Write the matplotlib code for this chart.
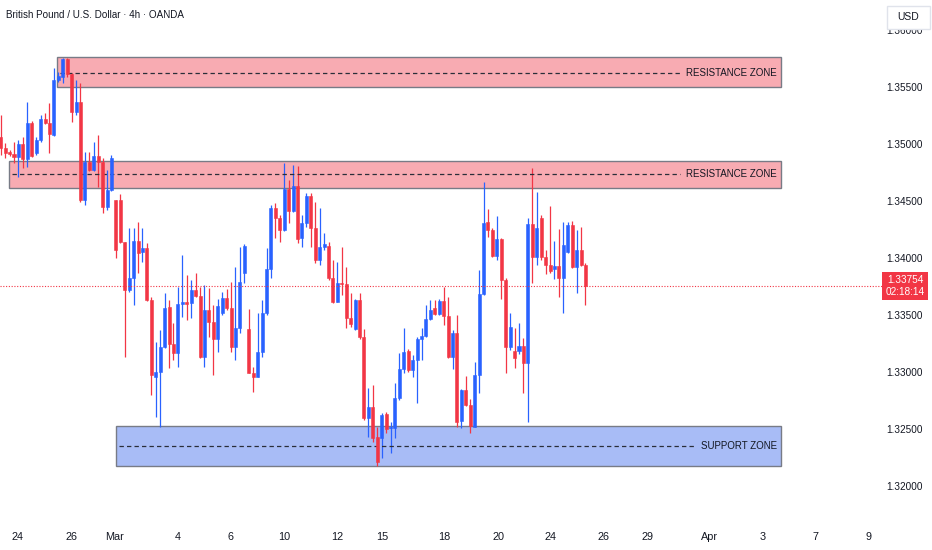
import numpy as np
import matplotlib
matplotlib.use("Agg")
import matplotlib.pyplot as plt
import matplotlib.transforms as mtransforms
from matplotlib.patches import Rectangle

plt.rcParams['font.family'] = ['Liberation Sans Narrow', 'DejaVu Sans Condensed', 'Liberation Sans', 'DejaVu Sans']
plt.rcParams['font.stretch'] = 'condensed'

#### GBPUSD 4h candles ####
opens = [1.35067, 1.34964, 1.34929, 1.34911, 1.34891, 1.35002, 1.34867, 1.35190, 1.34920, 1.35037,
         1.35222, 1.35184, 1.35081, 1.35565, 1.35594, 1.35746, 1.35614, 1.35286, 1.35374, 1.34510,
         1.34847, 1.34774, 1.34897, 1.34847, 1.34451, 1.34598, 1.34510, 1.34510, 1.34143, 1.33719,
         1.33822, 1.34152, 1.34050, 1.34085, 1.33631, 1.32957, 1.33001, 1.33221, 1.33567, 1.33244,
         1.33168, 1.33596, 1.33616, 1.33602, 1.33719, 1.33666, 1.33127, 1.33543, 1.33441, 1.33285,
         1.33514, 1.33646, 1.33558, 1.33221, 1.33382, 1.33865, 1.33373, 1.32993, 1.32957, 1.33177,
         1.33514, 1.33901, 1.34437, 1.34349, 1.34246, 1.34604, 1.34416, 1.34633, 1.34173, 1.34305,
         1.34545, 1.34261, 1.33983, 1.34094, 1.34106, 1.33821, 1.33616, 1.33778, 1.33772, 1.33470,
         1.33373, 1.33631, 1.33303, 1.32591, 1.32694, 1.32430, 1.32416, 1.32629, 1.32503, 1.32503,
         1.32767, 1.33022, 1.33186, 1.33016, 1.33104, 1.33285, 1.33315, 1.33461, 1.33558, 1.33508,
         1.33625, 1.33490, 1.33133, 1.33344, 1.32571, 1.32840, 1.32708, 1.32518, 1.32972, 1.33684,
         1.34319, 1.34246, 1.34018, 1.34164, 1.33807, 1.33215, 1.33186, 1.33186, 1.33227, 1.33074,
         1.34299, 1.34006, 1.34349, 1.34006, 1.33939, 1.33900, 1.33930, 1.33821, 1.34056, 1.34290,
         1.33918, 1.34070, 1.33939]
highs = [1.35257, 1.35008, 1.34949, 1.35023, 1.35037, 1.35067, 1.35374, 1.35204, 1.35067, 1.35257,
         1.35272, 1.35359, 1.35667, 1.35638, 1.35755, 1.35755, 1.35623, 1.35565, 1.35535, 1.34935,
         1.34935, 1.35023, 1.35081, 1.34876, 1.34774, 1.34906, 1.34510, 1.34562, 1.34143, 1.34264,
         1.34264, 1.34319, 1.34264, 1.34132, 1.33660, 1.33265, 1.33367, 1.33690, 1.33631, 1.33426,
         1.33748, 1.34027, 1.33851, 1.33807, 1.33871, 1.33748, 1.33763, 1.33734, 1.33587, 1.33637,
         1.33704, 1.33725, 1.33792, 1.33924, 1.34100, 1.34123, 1.33549, 1.33045, 1.33514, 1.33631,
         1.34085, 1.34466, 1.34486, 1.34378, 1.34838, 1.34686, 1.34817, 1.34808, 1.34378, 1.34574,
         1.34574, 1.34495, 1.34437, 1.34217, 1.34144, 1.33983, 1.33968, 1.34094, 1.33918, 1.33690,
         1.33637, 1.33690, 1.33373, 1.32855, 1.32884, 1.32518, 1.32635, 1.32650, 1.32562, 1.32899,
         1.33162, 1.33382, 1.33198, 1.33148, 1.33309, 1.33382, 1.33587, 1.33631, 1.33631, 1.33637,
         1.33748, 1.33660, 1.33367, 1.33499, 1.32846, 1.32963, 1.32758, 1.33089, 1.33895, 1.34671,
         1.34428, 1.34261, 1.34369, 1.34173, 1.33821, 1.33520, 1.33382, 1.33426, 1.33294, 1.34349,
         1.34788, 1.34583, 1.34378, 1.34070, 1.34457, 1.34152, 1.34252, 1.34319, 1.34319, 1.34328,
         1.34246, 1.34269, 1.33953]
lows = [1.34906, 1.34876, 1.34897, 1.34832, 1.34715, 1.34788, 1.34803, 1.34891, 1.34906, 1.35023,
        1.35178, 1.34920, 1.35072, 1.35550, 1.35535, 1.35594, 1.35198, 1.35257, 1.34495, 1.34466,
        1.34765, 1.34768, 1.34627, 1.34399, 1.34422, 1.34592, 1.34000, 1.34130, 1.33133, 1.33700,
        1.33587, 1.33868, 1.33967, 1.33620, 1.32796, 1.32606, 1.32518, 1.33206, 1.33031, 1.33104,
        1.33045, 1.33485, 1.33455, 1.33470, 1.33655, 1.33119, 1.33045, 1.33309, 1.32972, 1.33177,
        1.33499, 1.33543, 1.33177, 1.33104, 1.33338, 1.33778, 1.32987, 1.32826, 1.32952, 1.33133,
        1.33499, 1.33821, 1.34173, 1.34144, 1.34240, 1.34305, 1.34407, 1.34129, 1.34100, 1.34270,
        1.34100, 1.33953, 1.33939, 1.34070, 1.33807, 1.33608, 1.33611, 1.33675, 1.33382, 1.33397,
        1.33367, 1.33285, 1.32577, 1.32430, 1.32386, 1.32172, 1.32240, 1.32459, 1.32284, 1.32416,
        1.32752, 1.32987, 1.33001, 1.32952, 1.32723, 1.33104, 1.33309, 1.33455, 1.33499, 1.33499,
        1.33411, 1.33119, 1.33022, 1.32518, 1.32503, 1.32699, 1.32459, 1.32512, 1.32811, 1.33675,
        1.34182, 1.34012, 1.33982, 1.33637, 1.32987, 1.33192, 1.33031, 1.33157, 1.32811, 1.32562,
        1.33777, 1.33939, 1.33982, 1.33859, 1.33865, 1.33813, 1.33660, 1.33520, 1.34041, 1.33909,
        1.33695, 1.33930, 1.33587]
closes = [1.34964, 1.34920, 1.34911, 1.34891, 1.35002, 1.34867, 1.35190, 1.34897, 1.35037, 1.35222,
          1.35184, 1.35087, 1.35565, 1.35600, 1.35746, 1.35614, 1.35286, 1.35374, 1.34510, 1.34847,
          1.34774, 1.34897, 1.34847, 1.34451, 1.34598, 1.34876, 1.34070, 1.34143, 1.33719, 1.33822,
          1.34152, 1.34041, 1.34085, 1.33631, 1.32972, 1.33001, 1.33221, 1.33558, 1.33244, 1.33168,
          1.33596, 1.33616, 1.33596, 1.33719, 1.33666, 1.33127, 1.33543, 1.33441, 1.33285, 1.33578,
          1.33646, 1.33558, 1.33221, 1.33382, 1.33792, 1.34106, 1.32993, 1.32957, 1.33177, 1.33514,
          1.33901, 1.34437, 1.34349, 1.34246, 1.34604, 1.34416, 1.34633, 1.34164, 1.34305, 1.34545,
          1.34261, 1.33983, 1.34094, 1.34123, 1.33821, 1.33616, 1.33778, 1.33772, 1.33470, 1.33420,
          1.33631, 1.33303, 1.32591, 1.32694, 1.32416, 1.32211, 1.32621, 1.32495, 1.32512, 1.32767,
          1.33022, 1.33177, 1.33016, 1.33104, 1.33285, 1.33315, 1.33461, 1.33543, 1.33508, 1.33625,
          1.33490, 1.33133, 1.33344, 1.32562, 1.32840, 1.32708, 1.32524, 1.32972, 1.33684, 1.34310,
          1.34246, 1.34018, 1.34164, 1.33807, 1.33215, 1.33397, 1.33118, 1.33227, 1.33074, 1.34299,
          1.34006, 1.34261, 1.34006, 1.33939, 1.33889, 1.33930, 1.33821, 1.34114, 1.34290, 1.33918,
          1.34070, 1.33939, 1.33754]

# zones (price bounds) and where each box starts (candle index)
zone_names = ["RESISTANCE ZONE", "RESISTANCE ZONE", "SUPPORT ZONE"]
zone_tops = [1.35764, 1.34852, 1.32524]
zone_bottoms = [1.35500, 1.34615, 1.32172]
zone_mids = [1.35628, 1.34736, 1.32351]
zone_starts = [12.8, 1.9, 26.0]
zone_end = 176.1
zone_kind = ["res", "res", "sup"]

# time axis labels (candle index positions)
tick_pos = [3.9, 15.9, 25.8, 40.0, 51.8, 64.0, 75.9, 86.1, 100.1, 112.3,
            124.0, 136.0, 146.1, 160.1, 172.1, 184.0, 196.0]
tick_labels = ["24", "26", "Mar", "4", "6", "10", "12", "15", "18", "20",
               "24", "26", "29", "Apr", "3", "7", "9"]

price_ticks = np.arange(1.320, 1.36001, 0.005)
last_price = 1.33754
countdown = "02:18:14"
title = "British Pound / U.S. Dollar \u00b7 4h \u00b7 OANDA"

BLUE = "#2962FF"
RED = "#F23645"
TXT = "#131722"
FILL = {"res": "#F8ABB2", "sup": "#A8BCF6"}

W, H = 932, 550
fig = plt.figure(figsize=(W / 100, H / 100), dpi=100)
ax = fig.add_axes([0, 30 / H, 857 / W, 520 / H])

o = np.array(opens)
h = np.array(highs)
l = np.array(lows)
c = np.array(closes)
idx = np.arange(len(o))
colors = np.where(c >= o, BLUE, RED)

ax.vlines(idx, l, h, colors=colors, linewidth=0.9, zorder=3)
ax.bar(idx, np.abs(c - o), bottom=np.minimum(o, c), width=0.68,
       color=colors, edgecolor=colors, linewidth=0.4, zorder=4)

ax.set_xlim(-0.16, 193.3)
ax.set_ylim(1.31698, 1.36267)

# zone boxes + labels
zone_texts = []
for name, top, bot, mid, x0, kind in zip(zone_names, zone_tops, zone_bottoms, zone_mids, zone_starts, zone_kind):
    ax.add_patch(Rectangle((x0, bot), zone_end - x0, top - bot, facecolor=FILL[kind],
                           edgecolor="#787B86", linewidth=1, zorder=2))
    t = ax.text(zone_end - 0.9, mid, name, ha="right", va="center", fontsize=7.0,
                color=TXT, zorder=6)
    zone_texts.append(t)

# current price line + label
ax.axhline(last_price, xmin=0, xmax=883 / 857, color=RED, linewidth=0.8,
           linestyle=(0, (1, 1.5)), clip_on=False, zorder=5)
trans = mtransforms.blended_transform_factory(ax.transAxes, ax.transData)
ax.text(905 / 857, last_price, f"{last_price:.5f}\n{countdown}", transform=trans,
        ha="center", va="center", color="white", fontsize=7.2, linespacing=1.15,
        bbox=dict(boxstyle="square,pad=0.3", fc=RED, ec="none"), clip_on=False, zorder=10)

# price scale on the right
ax.yaxis.tick_right()
ax.set_yticks(price_ticks)
ax.set_yticklabels([f"{v:.5f}" for v in price_ticks])
ax.tick_params(axis="y", length=0, pad=21, labelsize=7.2, labelcolor=TXT)
ax.set_xticks([])
for s in ax.spines.values():
    s.set_visible(False)

# time labels
for pos, lab in zip(tick_pos, tick_labels):
    ax.text(pos, -17 / 520, lab, transform=ax.get_xaxis_transform(), ha="center",
            va="center", fontsize=7.8, color=TXT, clip_on=False)

fig.text(6 / W, 1 - 15 / H, title, ha="left", va="center", fontsize=7.1, color=TXT)

# USD box over the top of the scale
fig.patches.append(Rectangle((887 / W, 1 - 29 / H), 43 / W, 23 / H, transform=fig.transFigure,
                             facecolor="white", edgecolor="#E0E3EB", linewidth=1, zorder=5))
fig.text(908 / W, 1 - 17 / H, "USD", ha="center", va="center", fontsize=7.5, color=TXT, zorder=6)

# dashed mid-lines stop a few pixels before the zone text
fig.canvas.draw()
renderer = fig.canvas.get_renderer()
for t, mid, x0 in zip(zone_texts, zone_mids, zone_starts):
    bb = t.get_window_extent(renderer)
    x_end = ax.transData.inverted().transform((bb.x0 - 6, 0))[0]
    ax.plot([x0 + 0.6, x_end], [mid, mid], color="#2A2E39", linewidth=0.9,
            linestyle=(0, (3.5, 2.5)), zorder=3)

fig.savefig("out.png", dpi=100)
